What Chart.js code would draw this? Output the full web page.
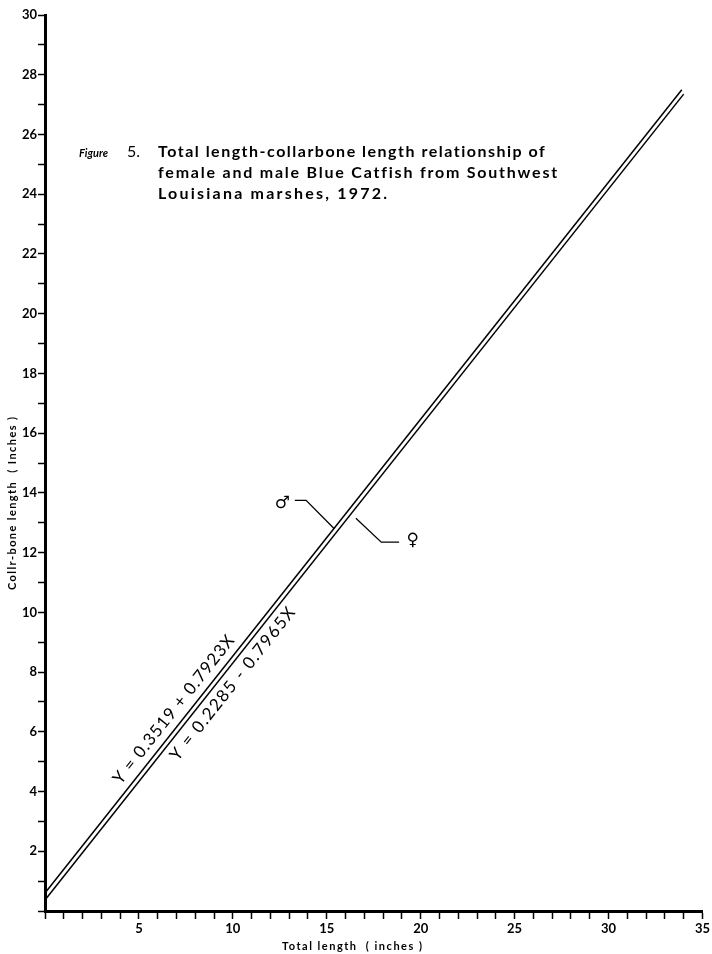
<!DOCTYPE html>
<html>
<head>
<meta charset="utf-8">
<script src="https://cdn.jsdelivr.net/npm/chart.js@4.4.1/dist/chart.umd.min.js"></script>
<style>
  html, body { margin: 0; background: #fff; }
  canvas { display: block; }
</style>
</head>
<body>
<canvas id="chart" width="712" height="954"></canvas>
<script>
// regression lines (end points)
const maleX = [0, 33.9];
const maleY = [0.6, 27.5];
const femaleX = [0, 34.0];
const femaleY = [0.37, 27.35];

const xLabeled = [5, 10, 15, 20, 25, 30, 35];
const yLabeled = [2, 4, 6, 8, 10, 12, 14, 16, 18, 20, 22, 24, 26, 28, 30];

const captionLines = [
  "Total length-collarbone length relationship of",
  "female and male Blue Catfish from Southwest",
  "Louisiana marshes, 1972.",
];
const maleEquation = "Y = 0.3519 + 0.7923X";
const femaleEquation = "Y = 0.2285 - 0.7965X";
const xTitle = "Total length  ( inches )";
const yTitle = "Collr-bone length  ( Inches )";

const toPoints = (xs, ys) => xs.map((x, i) => ({ x, y: ys[i] }));

// draw text squeezed/stretched to a given width
function fitText(ctx, text, x, y, width) {
  ctx.letterSpacing = "0px";
  const w = ctx.measureText(text).width;
  ctx.letterSpacing = ((width - w) / Math.max(1, text.length - 1)) + "px";
  ctx.fillText(text, x, y);
  ctx.letterSpacing = "0px";
}

const extras = {
  id: "extras",
  afterDraw(chart) {
    const { ctx, scales } = chart;
    const px = (v) => scales.x.getPixelForValue(v);
    const py = (v) => scales.y.getPixelForValue(v);
    ctx.save();
    ctx.fillStyle = "#000";
    ctx.strokeStyle = "#000";
    ctx.textBaseline = "alphabetic";

    // caption
    ctx.textAlign = "right";
    ctx.font = "italic bold 11px Lato";
    ctx.fillText("Figure", 108, 157);
    ctx.textAlign = "left";
    ctx.font = "16px Lato";
    ctx.fillText("5.", 127, 157);
    ctx.font = "bold 16px Lato";
    const widths = [387, 399, 229];
    captionLines.forEach((line, i) => fitText(ctx, line, 158, 157 + i * 21, widths[i]));

    // axis titles
    ctx.font = "bold 11px Lato";
    fitText(ctx, xTitle, 282, 950, 140);
    ctx.save();
    ctx.translate(16, 590);
    ctx.rotate(-Math.PI / 2);
    fitText(ctx, yTitle, 0, 0, 173);
    ctx.restore();

    // equation labels along the lines
    const ang = Math.atan2(py(maleY[1]) - py(maleY[0]), px(maleX[1]) - px(maleX[0]));
    ctx.font = "17px Lato";
    ctx.textAlign = "left";
    ctx.textBaseline = "middle";
    [[maleEquation, 118, 783, 184, -2], [femaleEquation, 172, 757, 190, 2]].forEach(([t, x, y, w, off]) => {
      ctx.save();
      ctx.translate(x, y);
      ctx.rotate(ang);
      fitText(ctx, t, 0, off, w);
      ctx.restore();
    });

    // sex symbols with leader lines
    ctx.font = "17px 'DejaVu Sans'";
    ctx.textAlign = "center";
    ctx.fillText("\u2642", px(12.63), py(13.65));
    ctx.fillText("\u2640", px(19.57), py(12.4));
    ctx.lineWidth = 1.3;
    ctx.beginPath();
    ctx.moveTo(px(13.3), py(13.75));
    ctx.lineTo(px(13.9), py(13.75));
    ctx.lineTo(px(15.4), py(12.8));
    ctx.moveTo(px(16.55), py(13.15));
    ctx.lineTo(px(17.9), py(12.35));
    ctx.lineTo(px(18.85), py(12.35));
    ctx.stroke();
    ctx.restore();
  },
};

const tickGrid = {
  drawOnChartArea: false,
  drawTicks: true,
  tickLength: 7,
  tickWidth: 1.5,
  color: "#000",
};

const tickFont = { family: "Lato", size: 13, weight: "bold" };

new Chart(document.getElementById("chart"), {
  type: "scatter",
  data: {
    datasets: [
      { label: "male", data: toPoints(maleX, maleY) },
      { label: "female", data: toPoints(femaleX, femaleY) },
    ].map((d) => ({
      ...d,
      showLine: true,
      borderColor: "#000",
      borderWidth: 1.5,
      pointRadius: 0,
      fill: false,
    })),
  },
  options: {
    responsive: false,
    animation: false,
    layout: { padding: { top: 15, right: 7, left: 0, bottom: 0 } },
    plugins: { legend: { display: false }, tooltip: { enabled: false } },
    scales: {
      x: {
        type: "linear",
        min: 0,
        max: 35,
        afterFit: (s) => { s.height = 43; },
        border: { color: "#000", width: 3 },
        grid: { ...tickGrid, tickLength: 8 },
        ticks: {
          stepSize: 1,
          autoSkip: false,
          maxTicksLimit: 100,
          maxRotation: 0,
          padding: 2,
          color: "#000",
          font: tickFont,
          callback: (v) => (xLabeled.includes(v) ? String(v) : ""),
        },
      },
      y: {
        type: "linear",
        min: 0,
        max: 30,
        afterFit: (s) => { s.width = 45; },
        border: { color: "#000", width: 3 },
        grid: tickGrid,
        ticks: {
          stepSize: 1,
          autoSkip: false,
          maxTicksLimit: 100,
          padding: 1,
          color: "#000",
          font: tickFont,
          callback: (v) => (yLabeled.includes(v) ? String(v) : ""),
        },
      },
    },
  },
  plugins: [extras],
});
</script>
</body>
</html>
